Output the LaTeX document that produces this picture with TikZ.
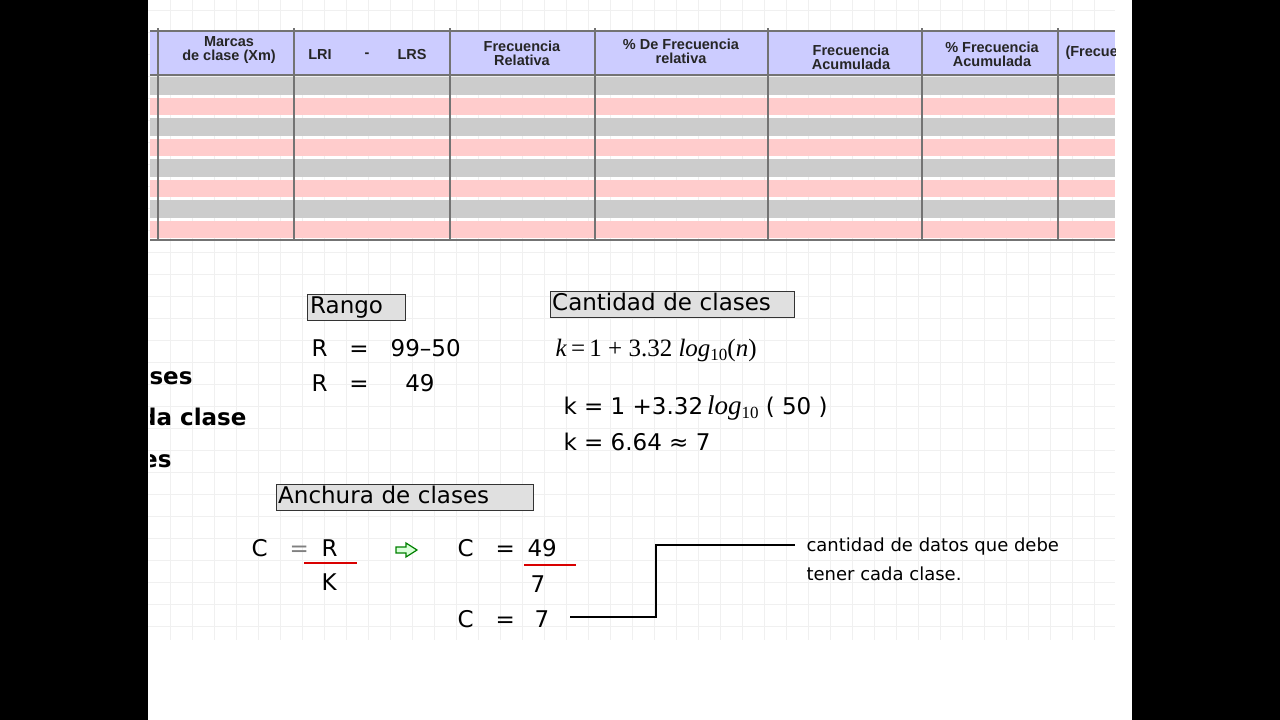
\documentclass[tikz,border=0pt]{standalone}
\usepackage{fontspec}
\setmainfont{DejaVu Sans}
\newfontfamily\hdr{Liberation Sans}
\newfontfamily\serif{Liberation Serif}
\newcommand{\sbs}[1]{\raisebox{-0.35ex}{\fontsize{17}{18}\selectfont #1}}
\begin{document}
\begin{tikzpicture}[x=1pt,y=-1pt,
  hd/.style={font=\hdr\bfseries\fontsize{14.5}{14}\selectfont,align=center,text=black!85},
  tx/.style={font=\fontsize{23}{25}\selectfont,anchor=west},
  ttl/.style={draw=black!80,fill=black!12,font=\fontsize{23}{25}\selectfont,inner sep=2pt,anchor=west,text height=17pt,text depth=5pt},
  sm/.style={font=\fontsize{18}{29}\selectfont,anchor=west,align=left}]
\useasboundingbox (0,0) rectangle (1280,720);
\fill[black] (0,0) rectangle (148,720);
\fill[black] (1132,0) rectangle (1280,720);
\fill[white] (148,0) rectangle (1132,720);
% grid
\foreach \x in {170,192,...,1110} \draw[black!6,line width=0.6pt] (\x,0) -- (\x,640);
\foreach \y in {10,32,...,640} \draw[black!6,line width=0.6pt] (148,\y) -- (1115,\y);
% table
\fill[blue!20] (150,31) rectangle (1115,75);
\foreach \i in {0,...,7}{
  \pgfmathsetmacro\ya{77+\i*20.5}
  \pgfmathsetmacro\yb{\ya+17.5}
  \ifodd\i \fill[red!20] (150,\ya) rectangle (1115,\yb); \else \fill[black!20] (150,\ya) rectangle (1115,\yb); \fi
}
\draw[black!55,line width=1.5pt] (150,31) -- (1115,31);
\draw[black!55,line width=1.5pt] (150,75) -- (1115,75);
\draw[black!55,line width=1.5pt] (150,240) -- (1115,240);
\foreach \x in {158,294,450,595,768,922,1058} \draw[black!55,line width=1.8pt] (\x,28) -- (\x,240);
\node[hd] (h1) at (229,50) {Marcas\\de clase (Xm)};
\node[hd] (h2) at (320,55) {LRI};
\node[hd] (h2b) at (367,55) {-};
\node[hd] (h2c) at (412,55) {LRS};
\node[hd] (h3) at (522,53) {Frecuencia\\Relativa};
\node[hd] (h4) at (681,51) {\% De Frecuencia\\relativa};
\node[hd] (h5) at (851,57) {Frecuencia\\Acumulada};
\node[hd] (h6) at (992,54) {\% Frecuencia\\Acumulada};
\begin{scope}
\clip (1059,31) rectangle (1115,75);
\node[hd,anchor=west] (h7) at (1062,53) {(Frecuencia};
\end{scope}
% left cut text
\begin{scope}
\clip (150,350) rectangle (400,480);
\node[font=\fontsize{23}{25}\selectfont\bfseries,anchor=east] (l1) at (196,376) {clases};
\node[font=\fontsize{23}{25}\selectfont\bfseries,anchor=east] (l2) at (250,417) {de cada clase};
\node[font=\fontsize{23}{25}\selectfont\bfseries,anchor=east] (l3) at (175,459) {clases};
\end{scope}
% Rango
\node[ttl,minimum width=98pt,align=left,text width=92pt] (rango) at (307,307) {Rango};
\node[tx] (r1) at (308,348) {R\ \ \ =\ \ \ 99–50};
\node[tx] (r2) at (308,383) {R\ \ \ =\ \ \ \ \ 49};
% Cantidad
\node[ttl,text width=240pt] (cant) at (550,304) {Cantidad de clases};
\node[anchor=west,font=\serif\fontsize{25}{26}\selectfont] (f1) at (552,350) {\textit{k}\,=\,1 + 3.32 \textit{log}\sbs{10}(\textit{n})};
\node[tx] (k1) at (560,408) {k = 1 +3.32\,{\serif\fontsize{27}{28}\selectfont\textit{log}\sbs{10}} ( 50 )};
\node[tx] (k2) at (560,442) {k = 6.64 ≈ 7};
% Anchura
\node[ttl,text width=253pt] (anch) at (276,497) {Anchura de clases};
\node[tx] (c1) at (248,548) {C\ \ \ {\color{black!50}=}};
\node[tx] (cR) at (318,548) {R};
\node[tx] (cK) at (318,582) {K};
\draw[red!85!black,line width=1.5pt] (304,563) -- (357,563);
\draw[green!50!black,line width=1.2pt,fill=green!15] (396,547) -- (406,547) -- (406,543) -- (417,550) -- (406,557) -- (406,553) -- (396,553) -- cycle;
\node[tx] (c2) at (454,548) {C\ \ \ =};
\node[tx] (c49) at (524,548) {49};
\node[tx] (c7) at (527,584) {7};
\draw[red!85!black,line width=1.5pt] (524,565) -- (576,565);
\node[tx] (c3) at (454,619) {C\ \ \ =};
\node[tx] (c3b) at (531,619) {7};
\coordinate (e1) at (570,617);
\coordinate (e2) at (795,545);
\draw[line width=1.5pt] (e1) -- (656,617) -- (656,545) -- (e2);
\node[sm] (note) at (803,559) {cantidad de datos que debe\\tener cada clase.};
\end{tikzpicture}
\end{document}
